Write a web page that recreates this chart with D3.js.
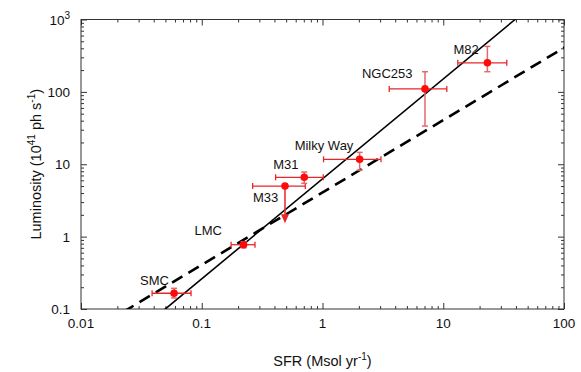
<!DOCTYPE html>
<html>
<head>
<meta charset="utf-8">
<script src="https://cdn.jsdelivr.net/npm/d3@7"></script>
<style>
  body { margin: 0; background: #fff; }
  svg { font-family: "Liberation Sans", Arial, sans-serif; }
</style>
</head>
<body>
<svg id="chart"></svg>
<script>
var width = 581, height = 372;
var margin = { top: 19.5, right: 17, bottom: 63, left: 81 };

// galaxies
var names = ["SMC", "LMC", "M33", "M31", "Milky Way", "NGC253", "M82"];
var sfr = [0.059, 0.222, 0.489, 0.706, 2.03, 7.06, 23.2];
var sfrLow = [0.0388, 0.175, 0.264, 0.409, 1.02, 3.57, 13.2];
var sfrHigh = [0.0815, 0.276, 0.72, 1.015, 3.05, 10.7, 33.6];
var lum = [0.165, 0.773, 5.0, 6.6, 11.7, 110, 252];
var lumLow = [0.142, 0.70, 1.53, 5.45, 8.3, 33.7, 190];
var lumHigh = [0.193, 0.85, 5.0, 7.8, 14.6, 190, 425];
var upperLimit = [false, false, true, false, false, false, false];
var labelDx = [-34, -49, -32, -31, -65, -63, -34];
var labelDy = [-8, -10, 16, -8, -9, -11, -9];

// fits: log L = a + b log SFR
var fitSolid = { a: 0.798, b: 1.381 };
var fitDashed = { a: 0.61, b: 1.0 };

var xTicks = [0.01, 0.1, 1, 10, 100];
var yTicks = [0.1, 1, 10, 100, 1000];

var svg = d3.select("#chart")
    .attr("width", width)
    .attr("height", height);

var xScale = d3.scaleLog()
    .domain([0.01, 100])
    .range([margin.left, width - margin.right]);

var yScale = d3.scaleLog()
    .domain([0.1, 1000])
    .range([height - margin.bottom, margin.top]);

var x0 = margin.left, x1 = width - margin.right;
var y0 = height - margin.bottom, y1 = margin.top;

// minor ticks
var xMinor = [], yMinor = [];
xTicks.slice(0, -1).forEach(t => { for (var k = 2; k <= 9; k++) xMinor.push(t * k); });
yTicks.slice(0, -1).forEach(t => { for (var k = 2; k <= 9; k++) yMinor.push(t * k); });

var axisColor = "#333";

function tickAxis(axis, minors, g) {
  g.call(axis.tickValues(minors).tickSize(3).tickFormat(""))
  g.select(".domain").remove();
  g.selectAll("line").attr("stroke", axisColor);
}

// bottom
svg.append("g").attr("transform", `translate(0,${y0})`)
  .call(g => tickAxis(d3.axisTop(xScale), xMinor, g));
svg.append("g").attr("transform", `translate(0,${y0})`)
  .call(d3.axisTop(xScale).tickValues(xTicks).tickSize(6).tickFormat(""))
  .call(g => g.select(".domain").remove())
  .selectAll("line").attr("stroke", axisColor);
// top
svg.append("g").attr("transform", `translate(0,${y1})`)
  .call(g => tickAxis(d3.axisBottom(xScale), xMinor, g));
svg.append("g").attr("transform", `translate(0,${y1})`)
  .call(d3.axisBottom(xScale).tickValues(xTicks).tickSize(6).tickFormat(""))
  .call(g => g.select(".domain").remove())
  .selectAll("line").attr("stroke", axisColor);
// left
svg.append("g").attr("transform", `translate(${x0},0)`)
  .call(g => tickAxis(d3.axisRight(yScale), yMinor, g));
svg.append("g").attr("transform", `translate(${x0},0)`)
  .call(d3.axisRight(yScale).tickValues(yTicks).tickSize(6).tickFormat(""))
  .call(g => g.select(".domain").remove())
  .selectAll("line").attr("stroke", axisColor);
// right
svg.append("g").attr("transform", `translate(${x1},0)`)
  .call(g => tickAxis(d3.axisLeft(yScale), yMinor, g));
svg.append("g").attr("transform", `translate(${x1},0)`)
  .call(d3.axisLeft(yScale).tickValues(yTicks).tickSize(6).tickFormat(""))
  .call(g => g.select(".domain").remove())
  .selectAll("line").attr("stroke", axisColor);

// frame
svg.append("rect")
    .attr("x", x0).attr("y", y1)
    .attr("width", x1 - x0).attr("height", y0 - y1)
    .attr("fill", "none")
    .attr("stroke", axisColor)
    .attr("stroke-width", 1);

// tick labels
svg.selectAll(".xlab")
  .data(xTicks)
  .enter()
  .append("text")
    .attr("x", d => xScale(d))
    .attr("y", y0 + 19)
    .attr("text-anchor", "middle")
    .style("font-size", "13.5px")
    .attr("fill", "#111")
    .text(d => d3.format("~g")(d));

var yLab = svg.selectAll(".ylab")
  .data(yTicks)
  .enter()
  .append("text")
    .attr("x", x0 - 11)
    .attr("y", d => yScale(d) + 5)
    .attr("text-anchor", "end")
    .style("font-size", "13.5px")
    .attr("fill", "#111");
yLab.each(function(d) {
  var t = d3.select(this);
  if (d === 1000) {
    t.append("tspan").text("10");
    t.append("tspan").attr("dy", -6).style("font-size", "10px").text("3");
  } else {
    t.text(d3.format("~g")(d));
  }
});

// fit lines
var clip = svg.append("clipPath").attr("id", "plot-clip")
  .append("rect")
    .attr("x", x0).attr("y", y1)
    .attr("width", x1 - x0).attr("height", y0 - y1);

var lineGen = d3.line()
    .x(d => xScale(d[0]))
    .y(d => yScale(d[1]));

function fitPoints(fit) {
  return [0.001, 1000].map(s => [s, Math.pow(10, fit.a + fit.b * Math.log10(s))]);
}

svg.append("path")
    .datum(fitPoints(fitDashed))
    .attr("clip-path", "url(#plot-clip)")
    .attr("d", lineGen)
    .attr("fill", "none")
    .attr("stroke", "#000")
    .attr("stroke-width", 2.6)
    .attr("stroke-dasharray", "12,7");

svg.append("path")
    .datum(fitPoints(fitSolid))
    .attr("clip-path", "url(#plot-clip)")
    .attr("d", lineGen)
    .attr("fill", "none")
    .attr("stroke", "#000")
    .attr("stroke-width", 1.6);

// error bars + points
var data = names.map((n, i) => ({
  name: n, x: sfr[i], xl: sfrLow[i], xh: sfrHigh[i],
  y: lum[i], yl: lumLow[i], yh: lumHigh[i], ul: upperLimit[i],
  dx: labelDx[i], dy: labelDy[i]
}));

var pts = svg.append("g").selectAll("g")
  .data(data)
  .enter()
  .append("g");

var cap = 3;
var hColor = "#e8262a", vColor = "#e06a6e";

// horizontal bars
pts.append("line")
    .attr("x1", d => xScale(d.xl)).attr("x2", d => xScale(d.xh))
    .attr("y1", d => yScale(d.y)).attr("y2", d => yScale(d.y))
    .attr("stroke", hColor).attr("stroke-width", 1.3);
pts.append("line")
    .attr("x1", d => xScale(d.xl)).attr("x2", d => xScale(d.xl))
    .attr("y1", d => yScale(d.y) - cap).attr("y2", d => yScale(d.y) + cap)
    .attr("stroke", hColor).attr("stroke-width", 1.3);
pts.append("line")
    .attr("x1", d => xScale(d.xh)).attr("x2", d => xScale(d.xh))
    .attr("y1", d => yScale(d.y) - cap).attr("y2", d => yScale(d.y) + cap)
    .attr("stroke", hColor).attr("stroke-width", 1.3);

// vertical bars
pts.append("line")
    .attr("x1", d => xScale(d.x)).attr("x2", d => xScale(d.x))
    .attr("y1", d => yScale(d.yh)).attr("y2", d => d.ul ? yScale(d.yl) - 6 : yScale(d.yl))
    .attr("stroke", d => d.ul ? hColor : vColor).attr("stroke-width", 1.5);
pts.filter(d => !d.ul).append("line")
    .attr("x1", d => xScale(d.x) - cap).attr("x2", d => xScale(d.x) + cap)
    .attr("y1", d => yScale(d.yh)).attr("y2", d => yScale(d.yh))
    .attr("stroke", vColor).attr("stroke-width", 1.5);
pts.filter(d => !d.ul).append("line")
    .attr("x1", d => xScale(d.x) - cap).attr("x2", d => xScale(d.x) + cap)
    .attr("y1", d => yScale(d.yl)).attr("y2", d => yScale(d.yl))
    .attr("stroke", vColor).attr("stroke-width", 1.5);
// upper-limit arrow head
pts.filter(d => d.ul).append("path")
    .attr("d", d => {
      var px = xScale(d.x), py = yScale(d.yl);
      return `M${px - 4},${py - 9} L${px + 4},${py - 9} L${px},${py} Z`;
    })
    .attr("fill", hColor);

pts.append("circle")
    .attr("cx", d => xScale(d.x))
    .attr("cy", d => yScale(d.y))
    .attr("r", 3.8)
    .attr("fill", "#ff0a0a");

// labels
pts.append("text")
    .attr("x", d => xScale(d.x) + d.dx)
    .attr("y", d => yScale(d.y) + d.dy)
    .style("font-size", "13px")
    .attr("fill", "#111")
    .text(d => d.name);

// axis titles
svg.append("text")
    .attr("x", (x0 + x1) / 2)
    .attr("y", 366)
    .attr("text-anchor", "middle")
    .style("font-size", "14.5px")
    .attr("fill", "#111")
    .call(t => {
      t.append("tspan").text("SFR (Msol yr");
      t.append("tspan").attr("dy", -6).style("font-size", "10px").text("-1");
      t.append("tspan").attr("dy", 6).text(")");
    });

svg.append("text")
    .attr("transform", `translate(41,${(y0 + y1) / 2}) rotate(-90)`)
    .attr("text-anchor", "middle")
    .style("font-size", "14.5px")
    .attr("fill", "#111")
    .call(t => {
      t.append("tspan").text("Luminosity (10");
      t.append("tspan").attr("dy", -6).style("font-size", "10px").text("41");
      t.append("tspan").attr("dy", 6).text(" ph s");
      t.append("tspan").attr("dy", -6).style("font-size", "10px").text("-1");
      t.append("tspan").attr("dy", 6).text(")");
    });
</script>
</body>
</html>
